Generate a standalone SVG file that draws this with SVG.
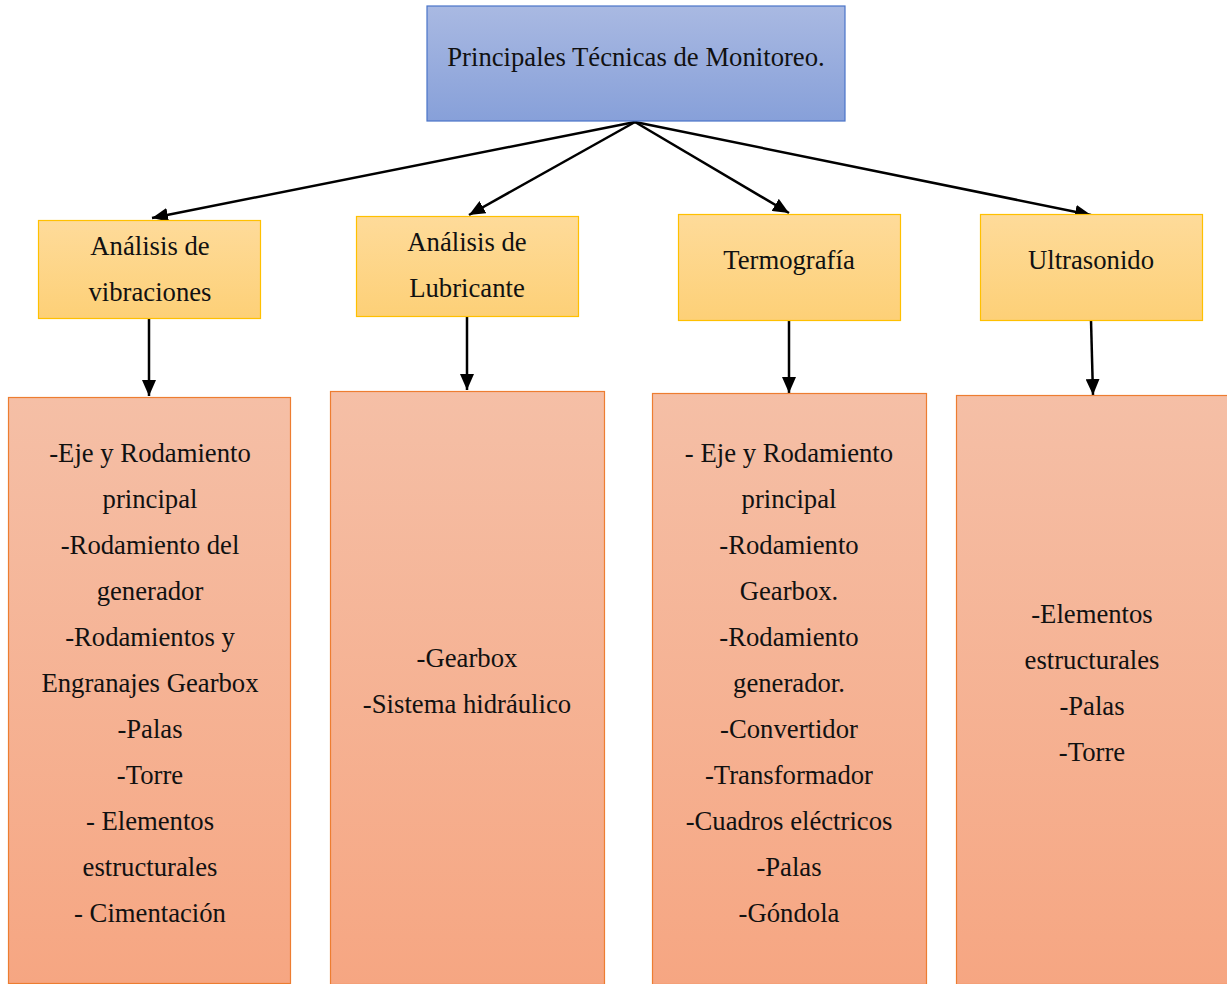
<svg xmlns="http://www.w3.org/2000/svg" width="1227" height="984" viewBox="0 0 1227 984">
  <defs>
    <linearGradient id="gBlue" x1="0" y1="0" x2="0" y2="1">
      <stop offset="0" stop-color="#a9b9e2"/>
      <stop offset="1" stop-color="#87a0d9"/>
    </linearGradient>
    <linearGradient id="gYellow" x1="0" y1="0" x2="0" y2="1">
      <stop offset="0" stop-color="#fedb9a"/>
      <stop offset="1" stop-color="#fdd077"/>
    </linearGradient>
    <linearGradient id="gOrange" x1="0" y1="0" x2="0" y2="1">
      <stop offset="0" stop-color="#f5bfa6"/>
      <stop offset="1" stop-color="#f6a682"/>
    </linearGradient>
    <marker id="head" viewBox="0 0 16 14" refX="16" refY="7" markerWidth="16" markerHeight="14" orient="auto" markerUnits="userSpaceOnUse">
      <path d="M0,0 L16,7 L0,14 Z" fill="#000"/>
    </marker>
  </defs>
  <style>
    text { font-family: 'Liberation Serif', serif; font-size: 26.7px; fill: #111; text-anchor: middle; }
    .root { fill: url(#gBlue); stroke: #4a74c8; stroke-width: 1.2; }
    .tech { fill: url(#gYellow); stroke: #ffc000; stroke-width: 1.2; }
    .list { fill: url(#gOrange); stroke: #ed7d31; stroke-width: 1.2; }
    .conn { stroke: #000; stroke-width: 2.5; fill: none; }
  </style>

  <!-- connectors -->
  <g id="connectors">
    <line class="conn" x1="635" y1="122" x2="152" y2="218" marker-end="url(#head)"/>
    <line class="conn" x1="635" y1="122" x2="469" y2="215" marker-end="url(#head)"/>
    <line class="conn" x1="635" y1="122" x2="789" y2="213" marker-end="url(#head)"/>
    <line class="conn" x1="635" y1="122" x2="1091" y2="215" marker-end="url(#head)"/>
    <line class="conn" x1="149" y1="318" x2="149" y2="396" marker-end="url(#head)"/>
    <line class="conn" x1="467" y1="316" x2="467" y2="390" marker-end="url(#head)"/>
    <line class="conn" x1="789" y1="320" x2="789" y2="393" marker-end="url(#head)"/>
    <line class="conn" x1="1091" y1="320" x2="1093" y2="395" marker-end="url(#head)"/>
  </g>

  <!-- root -->
  <g id="root">
    <rect class="root" x="427" y="6" width="418" height="115"/>
    <text x="636" y="66">Principales Técnicas de Monitoreo.</text>
  </g>

  <!-- techniques -->
  <g id="vibraciones">
    <rect class="tech" x="38.5" y="220.5" width="222" height="98"/>
    <text x="150" y="255">Análisis de</text>
    <text x="150" y="301">vibraciones</text>
  </g>
  <g id="lubricante">
    <rect class="tech" x="356.5" y="216.5" width="222" height="100"/>
    <text x="467" y="251">Análisis de</text>
    <text x="467" y="297">Lubricante</text>
  </g>
  <g id="termografia">
    <rect class="tech" x="678.5" y="214.5" width="222" height="106"/>
    <text x="789" y="269">Termografía</text>
  </g>
  <g id="ultrasonido">
    <rect class="tech" x="980.5" y="214.5" width="222" height="106"/>
    <text x="1091" y="269">Ultrasonido</text>
  </g>

  <!-- component lists -->
  <g id="lista-vibraciones">
    <rect class="list" x="8.5" y="397.5" width="282" height="586"/>
    <text x="150" y="462">-Eje y Rodamiento</text>
    <text x="150" y="508">principal</text>
    <text x="150" y="554">-Rodamiento del</text>
    <text x="150" y="600">generador</text>
    <text x="150" y="646">-Rodamientos y</text>
    <text x="150" y="692">Engranajes Gearbox</text>
    <text x="150" y="738">-Palas</text>
    <text x="150" y="784">-Torre</text>
    <text x="150" y="830">- Elementos</text>
    <text x="150" y="876">estructurales</text>
    <text x="150" y="922">- Cimentación</text>
  </g>
  <g id="lista-lubricante">
    <rect class="list" x="330.5" y="391.5" width="274" height="593"/>
    <text x="467" y="667">-Gearbox</text>
    <text x="467" y="713">-Sistema hidráulico</text>
  </g>
  <g id="lista-termografia">
    <rect class="list" x="652.5" y="393.5" width="274" height="591"/>
    <text x="789" y="462">- Eje y Rodamiento</text>
    <text x="789" y="508">principal</text>
    <text x="789" y="554">-Rodamiento</text>
    <text x="789" y="600">Gearbox.</text>
    <text x="789" y="646">-Rodamiento</text>
    <text x="789" y="692">generador.</text>
    <text x="789" y="738">-Convertidor</text>
    <text x="789" y="784">-Transformador</text>
    <text x="789" y="830">-Cuadros eléctricos</text>
    <text x="789" y="876">-Palas</text>
    <text x="789" y="922">-Góndola</text>
  </g>
  <g id="lista-ultrasonido">
    <rect class="list" x="956.5" y="395.5" width="274" height="589"/>
    <text x="1092" y="623">-Elementos</text>
    <text x="1092" y="669">estructurales</text>
    <text x="1092" y="715">-Palas</text>
    <text x="1092" y="761">-Torre</text>
  </g>
</svg>
